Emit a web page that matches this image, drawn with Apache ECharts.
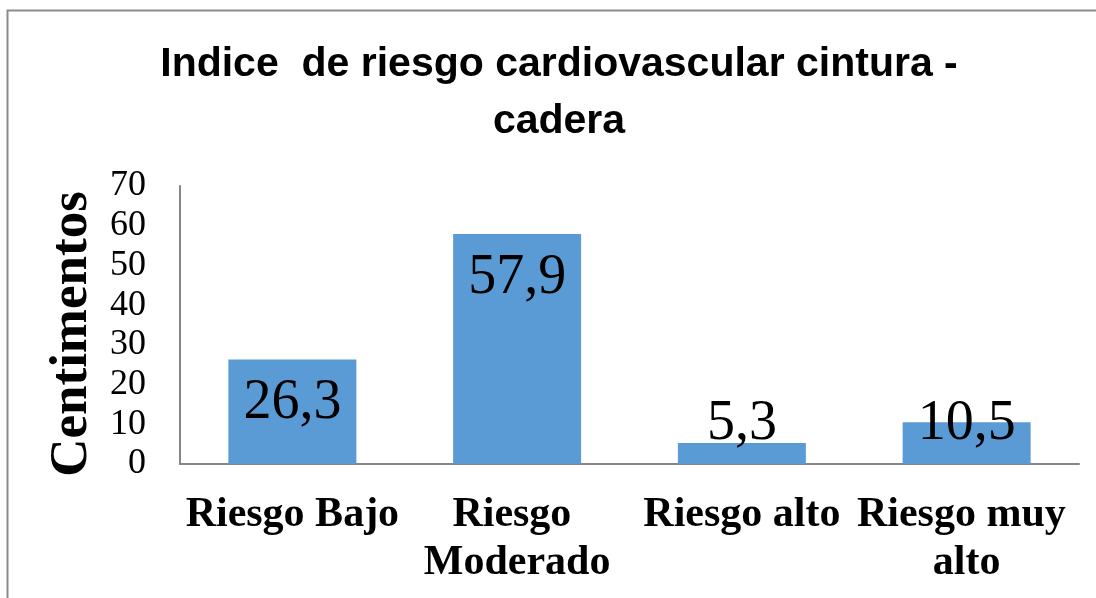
<!DOCTYPE html>
<html>
<head>
<meta charset="utf-8">
<script src="https://cdn.jsdelivr.net/npm/echarts@6/dist/echarts.min.js"></script>
<style>
  html, body { margin: 0; padding: 0; background: #fff; }
  #chart { width: 1096px; height: 598px; }
</style>
</head>
<body>
<div id="chart"></div>
<script>
const titleText = "Indice  de riesgo cardiovascular cintura -\ncadera";
const categories = ["Riesgo Bajo", "Riesgo Moderado", "Riesgo alto", "Riesgo muy alto"];
const values = [26.3, 57.9, 5.3, 10.5];
const yAxisName = "Centimentos";

const chart = echarts.init(document.getElementById("chart"));

// Excel keeps small-bar labels sitting on the axis instead of inside the top
const barData = values.map(v => ({
  value: v,
  label: v < 15
    ? { position: "insideBottom", distance: 12 }
    : { position: "insideTop", distance: 16 }
}));

const options = {
  backgroundColor: "#ffffff",
  animation: false,
  title: {
    text: titleText,
    left: 559,
    top: 36,
    textAlign: "center",
    padding: 0,
    textStyle: {
      fontFamily: "Liberation Sans",
      fontWeight: "bold",
      fontSize: 41,
      lineHeight: 57,
      color: "#000"
    }
  },
  graphic: [
    {
      // chart frame, only left and top edges are inside the picture
      type: "polyline",
      shape: { points: [[7.5, 598], [7.5, 10.5], [1096, 10.5]] },
      style: { fill: "none", stroke: "#8c8c8c", lineWidth: 2 },
      silent: true
    }
  ],
  grid: { left: 180, right: 17, top: 186, bottom: 134 },
  xAxis: {
    type: "category",
    data: categories,
    axisLine: { lineStyle: { color: "#868686", width: 2 } },
    axisTick: { show: false },
    axisLabel: {
      interval: 0,
      margin: 27,
      width: 228,
      overflow: "break",
      fontFamily: "Liberation Serif",
      fontWeight: "bold",
      fontSize: 42,
      lineHeight: 48,
      color: "#000"
    }
  },
  yAxis: {
    type: "value",
    min: 0,
    max: 70,
    interval: 10,
    name: yAxisName,
    nameLocation: "middle",
    nameGap: 80,
    nameTextStyle: {
      fontFamily: "Liberation Serif",
      fontWeight: "bold",
      fontSize: 53,
      color: "#000",
      padding: [0, 18, 0, 0]
    },
    axisLine: { show: true, lineStyle: { color: "#868686", width: 2 } },
    axisTick: { show: false },
    splitLine: { show: false },
    axisLabel: {
      margin: 34,
      fontFamily: "Liberation Serif",
      fontSize: 36,
      color: "#000"
    }
  },
  series: [
    {
      type: "bar",
      barWidth: 128,
      itemStyle: { color: "#5b9bd5" },
      label: {
        show: true,
        fontFamily: "Liberation Serif",
        fontSize: 56,
        color: "#000",
        formatter: p => String(p.value).replace(".", ",")
      },
      data: barData
    }
  ]
};

chart.setOption(options);
</script>
</body>
</html>
